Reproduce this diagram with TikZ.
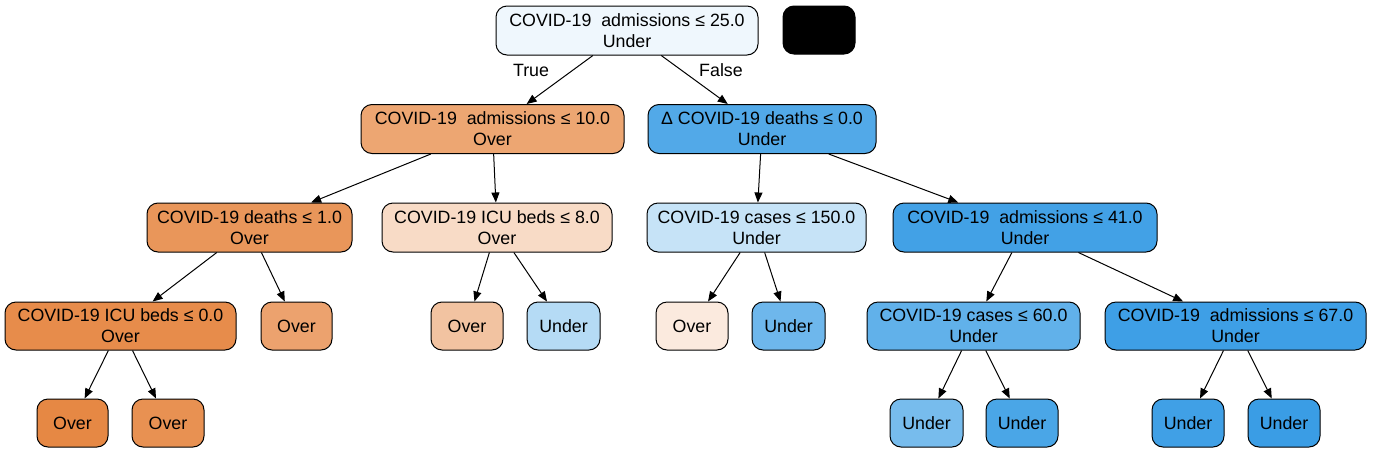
\documentclass[tikz,border=0pt]{standalone}
\usepackage{fontspec}
\setmainfont{Liberation Sans}
\usetikzlibrary{arrows.meta}
\definecolor{cRoot}{HTML}{EFF7FD}
\definecolor{cA}{HTML}{EDA672}
\definecolor{cB}{HTML}{52A9E8}
\definecolor{cC}{HTML}{E9965A}
\definecolor{cD}{HTML}{F8DBC6}
\definecolor{cE}{HTML}{C6E3F7}
\definecolor{cF}{HTML}{42A1E6}
\definecolor{cG}{HTML}{E78C4B}
\definecolor{cH}{HTML}{ECA26E}
\definecolor{cI}{HTML}{F2C3A1}
\definecolor{cJ}{HTML}{B5DBF5}
\definecolor{cK}{HTML}{FBEADE}
\definecolor{cL}{HTML}{6EB7EC}
\definecolor{cM}{HTML}{61B1EA}
\definecolor{cN}{HTML}{3E9FE6}
\definecolor{cO}{HTML}{E68844}
\definecolor{cP}{HTML}{E89152}
\definecolor{cQ}{HTML}{77BCED}
\definecolor{cR}{HTML}{4AA6E7}
\definecolor{cS}{HTML}{40A0E6}
\definecolor{cT}{HTML}{3A9DE5}
\tikzset{
  tnode/.style={draw=black, line width=1pt, rounded corners=11pt, inner sep=0pt,
    align=center, minimum height=49pt, font=\fontsize{17.8}{21}\selectfont},
  edge/.style={line width=1pt, -{Triangle[length=10pt,width=8pt]}},
  elabel/.style={font=\fontsize{17.8}{21}\selectfont, inner sep=0pt}
}
\newcommand{\dsp}{\ \ }
\begin{document}
\begin{tikzpicture}[x=1pt,y=-1pt]
\useasboundingbox (0,0) rectangle (1373,453);
% level 0
\node[tnode, fill=cRoot, minimum width=262pt] (root) at (627,30.5) {COVID-19\dsp admissions ≤ 25.0\\Under};
\node[tnode, fill=black, minimum width=72pt, minimum height=48pt] (blk) at (819,30) {};
% level 1
\node[tnode, fill=cA, minimum width=263pt] (n1) at (492.5,129) {COVID-19\dsp admissions ≤ 10.0\\Over};
\node[tnode, fill=cB, minimum width=228pt] (n2) at (762,129) {Δ COVID-19 deaths ≤ 0.0\\Under};
% level 2
\node[tnode, fill=cC, minimum width=205pt] (n3) at (249.5,227.5) {COVID-19 deaths ≤ 1.0\\Over};
\node[tnode, fill=cD, minimum width=230pt] (n4) at (497,227.5) {COVID-19 ICU beds ≤ 8.0\\Over};
\node[tnode, fill=cE, minimum width=219pt] (n5) at (756.5,227.5) {COVID-19 cases ≤ 150.0\\Under};
\node[tnode, fill=cF, minimum width=264pt] (n6) at (1025,227.5) {COVID-19\dsp admissions ≤ 41.0\\Under};
% level 3
\node[tnode, fill=cG, minimum width=231pt, minimum height=48pt] (n7) at (120.5,326) {COVID-19 ICU beds ≤ 0.0\\Over};
\node[tnode, fill=cH, minimum width=71pt, minimum height=48pt] (n8) at (296.5,326) {Over};
\node[tnode, fill=cI, minimum width=72pt, minimum height=48pt] (n9) at (467,326) {Over};
\node[tnode, fill=cJ, minimum width=73pt, minimum height=48pt] (n10) at (563.5,326) {Under};
\node[tnode, fill=cK, minimum width=72pt, minimum height=48pt] (n11) at (692,326) {Over};
\node[tnode, fill=cL, minimum width=73pt, minimum height=48pt] (n12) at (788.5,326) {Under};
\node[tnode, fill=cM, minimum width=213pt, minimum height=48pt] (n13) at (973.5,326) {COVID-19 cases ≤ 60.0\\Under};
\node[tnode, fill=cN, minimum width=261pt, minimum height=48pt] (n14) at (1235.5,326) {COVID-19\dsp admissions ≤ 67.0\\Under};
% level 4
\node[tnode, fill=cO, minimum width=71pt, minimum height=48pt] (n15) at (72.5,423) {Over};
\node[tnode, fill=cP, minimum width=72pt, minimum height=48pt] (n16) at (168,423) {Over};
\node[tnode, fill=cQ, minimum width=73pt, minimum height=48pt] (n17) at (926.5,423) {Under};
\node[tnode, fill=cR, minimum width=72pt, minimum height=48pt] (n18) at (1022,423) {Under};
\node[tnode, fill=cS, minimum width=72pt, minimum height=48pt] (n19) at (1188,423) {Under};
\node[tnode, fill=cT, minimum width=72pt, minimum height=48pt] (n20) at (1284,423) {Under};
% edges
\draw[edge] (root) -- (n1);
\draw[edge] (root) -- (n2);
\node[elabel] (lt) at (531,70) {True};
\node[elabel] (lf) at (721,70) {False};
\draw[edge] (n1) -- (n3);
\draw[edge] (n1) -- (n4);
\draw[edge] (n2) -- (n5);
\draw[edge] (n2) -- (n6);
\draw[edge] (n3) -- (n7);
\draw[edge] (n3) -- (n8);
\draw[edge] (n4) -- (n9);
\draw[edge] (n4) -- (n10);
\draw[edge] (n5) -- (n11);
\draw[edge] (n5) -- (n12);
\draw[edge] (n6) -- (n13);
\draw[edge] (n6) -- (n14);
\draw[edge] (n7) -- (n15);
\draw[edge] (n7) -- (n16);
\draw[edge] (n13) -- (n17);
\draw[edge] (n13) -- (n18);
\draw[edge] (n14) -- (n19);
\draw[edge] (n14) -- (n20);
\end{tikzpicture}
\end{document}
